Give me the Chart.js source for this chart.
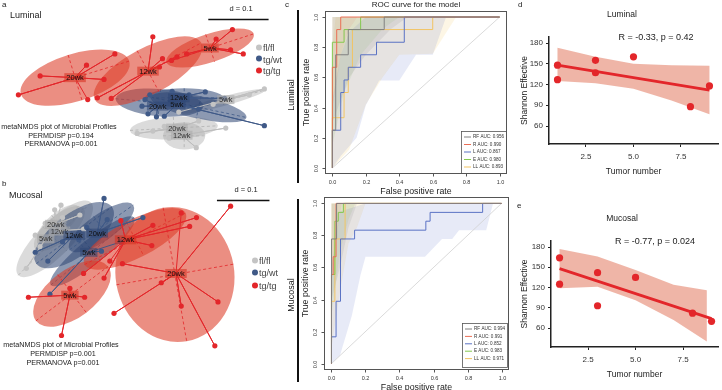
<!DOCTYPE html>
<html><head><meta charset="utf-8">
<title>Microbiota figure</title>
<script src="https://cdn.jsdelivr.net/npm/chart.js@4.4.1/dist/chart.umd.min.js"></script>
<style>
html,body{margin:0;padding:0;background:#fff}
body{width:722px;height:390px;position:relative;overflow:hidden;font-family:"Liberation Sans",Arial,sans-serif;color:#222}
canvas{position:absolute}
.t{position:absolute;white-space:nowrap;line-height:1;transform:translate(-50%,-50%)}
.l{position:absolute;white-space:nowrap;line-height:1;transform:translate(0,-50%)}
.r{position:absolute;white-space:nowrap;line-height:1;transform:translate(-50%,-50%) rotate(-90deg)}
.dot{display:inline-block;width:6px;height:6px;border-radius:50%;margin-right:1px;vertical-align:middle;position:relative;top:-1px}
.bar{position:absolute;background:#111}
</style></head><body>
<canvas id="cA" width="290" height="185" style="left:0;top:0"></canvas>
<canvas id="cB" width="290" height="190" style="left:0;top:185px"></canvas>
<canvas id="cC1" width="215" height="197" style="left:300px;top:0"></canvas>
<canvas id="cC2" width="215" height="200" style="left:300px;top:190px"></canvas>
<canvas id="cD" width="202" height="190" style="left:520px;top:0"></canvas>
<canvas id="cE" width="202" height="200" style="left:520px;top:190px"></canvas>

<!-- panel a texts -->
<div class="l" style="left:2px;top:5px;font-size:8px">a</div>
<div class="l" style="left:10px;top:15px;font-size:9px">Luminal</div>
<div class="t" style="left:241px;top:9px;font-size:7.5px">d = 0.1</div>
<div class="l" style="left:256px;top:48px;font-size:9px;color:#444"><span class="dot" style="background:#c4c4c4"></span>fl/fl</div>
<div class="l" style="left:256px;top:59.5px;font-size:9px;color:#444"><span class="dot" style="background:#3f5987"></span>tg/wt</div>
<div class="l" style="left:256px;top:71px;font-size:9px;color:#444"><span class="dot" style="background:#e3262a"></span>tg/tg</div>
<div class="t" style="left:59px;top:127px;font-size:7.2px">metaNMDS plot of Microbial Profiles</div>
<div class="t" style="left:61px;top:135.5px;font-size:7.2px">PERMDISP p=0.194</div>
<div class="t" style="left:61px;top:144px;font-size:7.2px">PERMANOVA p=0.001</div>

<!-- panel b texts -->
<div class="l" style="left:2px;top:184px;font-size:8px">b</div>
<div class="l" style="left:9px;top:195px;font-size:9px">Mucosal</div>
<div class="t" style="left:246px;top:190px;font-size:7.5px">d = 0.1</div>
<div class="l" style="left:252px;top:261px;font-size:9px;color:#444"><span class="dot" style="background:#c4c4c4"></span>fl/fl</div>
<div class="l" style="left:252px;top:273px;font-size:9px;color:#444"><span class="dot" style="background:#3f5987"></span>tg/wt</div>
<div class="l" style="left:252px;top:286px;font-size:9px;color:#444"><span class="dot" style="background:#e3262a"></span>tg/tg</div>
<div class="t" style="left:61px;top:345px;font-size:7.2px">metaNMDS plot of Microbial Profiles</div>
<div class="t" style="left:63px;top:354px;font-size:7.2px">PERMDISP p=0.001</div>
<div class="t" style="left:63px;top:363px;font-size:7.2px">PERMANOVA p=0.001</div>

<!-- panel c side labels -->
<div class="l" style="left:285px;top:5px;font-size:8px">c</div>
<div class="bar" style="left:297px;top:10px;width:1.5px;height:173px"></div>
<div class="r" style="left:291px;top:95px;font-size:9px">Luminal</div>
<div class="bar" style="left:297px;top:199px;width:1.5px;height:183px"></div>
<div class="r" style="left:291px;top:295px;font-size:9px">Mucosal</div>

<!-- panel d / e texts -->
<div class="l" style="left:518px;top:5px;font-size:8px">d</div>
<div class="t" style="left:622px;top:14px;font-size:8.5px">Luminal</div>
<div class="t" style="left:656px;top:36.5px;font-size:9px">R = -0.33, p = 0.42</div>
<div class="l" style="left:517px;top:206px;font-size:8px">e</div>
<div class="t" style="left:622px;top:218px;font-size:8.5px">Mucosal</div>
<div class="t" style="left:655px;top:241px;font-size:9px">R = -0.77, p = 0.024</div>

<script>
// ================= DATA =================
const weeks = ['5wk', '12wk', '20wk'];
const genotypes = ['fl/fl', 'tg/wt', 'tg/tg'];

// ---- Panel a: Luminal metaNMDS (NMDS1, NMDS2); order of weeks: 5wk, 12wk, 20wk ----
const lumFlCentroids = [[0.134, -0.012], [0.061, -0.072], [0.053, -0.060]];
const lumFlSamples = [
  [[0.198, 0.006], [0.173, -0.004], [0.113, -0.020], [0.056, -0.033]],
  [[0.085, -0.093], [0.134, -0.060], [0.040, -0.077]],
  [[-0.013, -0.069], [0.013, -0.065], [0.089, -0.048], [0.032, -0.057]]
];
// ellipse: [centre NMDS1, centre NMDS2, semi-axis 1, semi-axis 2, angle deg]
const lumFlEllipses = [[0.129, -0.015, 0.073, 0.008, 15], [0.065, -0.073, 0.035, 0.023, 0], [0.048, -0.060, 0.073, 0.019, 3]];

const lumWtCentroids = [[0.053, -0.020], [0.056, -0.009], [0.021, -0.023]];
const lumWtSamples = [
  [[0.198, -0.056], [0.089, -0.028], [0.032, -0.040], [0.065, -0.012]],
  [[0.100, 0.001], [0.045, 0.002], [0.132, -0.010], [0.073, -0.004]],
  [[0.000, -0.012], [-0.005, -0.023], [0.005, -0.036], [0.019, -0.041], [0.008, -0.004]]
];
const lumWtEllipses = [[0.089, -0.025, 0.081, 0.019, -12], [0.065, -0.009, 0.065, 0.016, 0], [0.024, -0.017, 0.073, 0.023, -5]];

const lumTgCentroids = [[0.108, 0.075], [0.005, 0.036], [-0.116, 0.025]];
const lumTgSamples = [
  [[0.145, 0.106], [0.163, 0.065], [0.142, 0.072], [0.118, 0.090], [0.069, 0.065], [0.044, 0.054]],
  [[0.013, 0.094], [-0.079, -0.009], [-0.056, -0.010], [0.029, 0.057], [0.053, 0.060], [0.024, 0.043]],
  [[-0.210, -0.004], [-0.174, 0.028], [-0.097, 0.046], [-0.050, 0.065], [-0.068, 0.022], [-0.095, -0.012]]
];
const lumTgEllipses = [[0.108, 0.075, 0.076, 0.024, 18], [0.005, 0.036, 0.100, 0.039, 28], [-0.116, 0.025, 0.094, 0.040, 17]];

// ---- Panel b: Mucosal metaNMDS ----
const mucFlCentroids = [[-0.189, 0.075], [-0.163, 0.090], [-0.170, 0.103]];
const mucFlSamples = [
  [[-0.226, 0.018], [-0.209, 0.082], [-0.200, 0.060]],
  [[-0.117, 0.094], [-0.157, 0.116], [-0.190, 0.105]],
  [[-0.172, 0.131], [-0.124, 0.121], [-0.160, 0.140]]
];
const mucFlEllipses = [[-0.172, 0.075, 0.098, 0.033, 45], [-0.163, 0.095, 0.060, 0.025, 40], [-0.165, 0.105, 0.050, 0.020, 40]];

const mucWtCentroids = [[-0.107, 0.049], [-0.135, 0.082], [-0.091, 0.086]];
const mucWtSamples = [
  [[-0.181, -0.032], [-0.083, 0.051], [-0.046, 0.069]],
  [[-0.185, 0.032], [-0.209, 0.049], [-0.126, 0.073], [-0.157, 0.069]],
  [[-0.078, 0.153], [-0.072, 0.112], [-0.004, 0.116], [-0.111, 0.097]]
];
const mucWtEllipses = [[-0.100, 0.051, 0.102, 0.024, 39], [-0.135, 0.082, 0.090, 0.041, 37], [-0.083, 0.097, 0.074, 0.026, 35]];

const mucTgCentroids = [[-0.143, -0.034], [-0.037, 0.073], [0.059, 0.008]];
const mucTgSamples = [
  [[-0.222, -0.038], [-0.115, -0.038], [-0.159, -0.112], [-0.143, -0.021]],
  [[0.098, 0.116], [0.085, 0.099], [0.013, 0.062], [-0.046, 0.110], [0.015, 0.101], [-0.117, 0.008], [-0.078, -0.001], [-0.067, 0.032]],
  [[0.163, 0.138], [0.139, -0.047], [0.133, -0.132], [0.069, -0.055], [-0.059, -0.069], [0.031, -0.010], [-0.043, 0.027], [0.069, 0.125]]
];
const mucTgEllipses = [[-0.139, -0.031, 0.086, 0.046, 37], [-0.019, 0.075, 0.108, 0.037, 27], [0.057, 0.006, 0.113, 0.131, 10]];

// ---- Panel c: ROC curves (FPR, TPR) ----
const rocModels = ['RF', 'R', 'L', 'E', 'LL'];
const rocTicks = [0, 0.2, 0.4, 0.6, 0.8, 1.0];
const lumAUC = [0.956, 0.990, 0.867, 0.980, 0.893];
const mucAUC = [0.994, 0.991, 0.852, 0.983, 0.971];

const lumRocRF = [[0,0],[0,0.25],[0.02,0.25],[0.02,0.75],[0.095,0.75],[0.095,0.917],[0.31,0.917],[0.31,1],[1,1]];
const lumRocR  = [[0,0],[0,0.667],[0.026,0.667],[0.026,0.917],[0.05,0.917],[0.05,1],[1,1]];
const lumRocL  = [[0,0],[0,0.25],[0.05,0.25],[0.05,0.5],[0.07,0.5],[0.07,0.583],[0.095,0.583],[0.095,0.667],[0.169,0.667],[0.169,0.75],[0.264,0.75],[0.264,0.833],[0.43,0.833],[0.43,1],[1,1]];
const lumRocE  = [[0,0],[0,0.833],[0.07,0.833],[0.07,0.917],[0.169,0.917],[0.169,1],[1,1]];
const lumRocLL = [[0,0],[0,0.333],[0.07,0.333],[0.07,0.5],[0.095,0.5],[0.095,0.667],[0.12,0.667],[0.12,0.917],[0.6,0.917],[0.6,1],[1,1]];
// confidence bands (closed outlines)
const lumBandRF = [[0,0.3],[0.05,0.45],[0.1,0.6],[0.2,0.75],[0.35,0.92],[0.45,1],[0,1]];
const lumBandR  = [[0,0.4],[0.03,0.6],[0.05,0.75],[0.1,0.92],[0.15,1],[0,1]];
const lumBandL  = [[0,0],[0.05,0.08],[0.145,0.2],[0.2,0.415],[0.28,0.58],[0.4,0.58],[0.5,0.75],[0.6,0.75],[0.68,1],[0.2,1],[0.1,0.9],[0.05,0.75],[0,0.45]];
const lumBandE  = [[0,0.15],[0.07,0.5],[0.17,0.75],[0.3,0.92],[0.4,1],[0,1]];
const lumBandLL = [[0,0],[0.1,0.12],[0.2,0.42],[0.3,0.6],[0.4,0.75],[0.6,0.757],[0.74,1],[0.02,1],[0,0.8]];

const mucRocRF = [[0,0],[0,0.778],[0.03,0.778],[0.03,1],[1,1]];
const mucRocR  = [[0,0],[0,0.556],[0.01,0.556],[0.01,0.667],[0.027,0.667],[0.027,1],[1,1]];
const mucRocL  = [[0,0],[0,0.167],[0.027,0.167],[0.027,0.389],[0.053,0.389],[0.053,0.778],[0.136,0.778],[0.136,0.833],[0.555,0.833],[0.555,0.889],[0.58,0.889],[0.58,0.944],[0.889,0.944],[0.889,1],[1,1]];
const mucRocE  = [[0,0],[0,0.556],[0.02,0.556],[0.02,0.889],[0.04,0.889],[0.04,0.944],[0.07,0.944],[0.07,1],[1,1]];
const mucRocLL = [[0,0],[0,0.389],[0.02,0.389],[0.02,0.778],[0.08,0.778],[0.08,1],[1,1]];
const mucBandRF = [[0,0.4],[0.05,0.6],[0.1,0.85],[0.15,1],[0,1]];
const mucBandR  = [[0,0.5],[0.03,0.8],[0.06,1],[0,1]];
const mucBandL  = [[0,0],[0.05,0.05],[0.12,0.3],[0.17,0.55],[0.2,0.667],[0.55,0.667],[0.65,0.778],[0.71,0.778],[0.75,0.833],[0.91,0.833],[0.95,1],[0.2,1],[0.05,0.95],[0,0.6]];
const mucBandE  = [[0,0.3],[0.05,0.7],[0.1,0.9],[0.14,1],[0,1]];
const mucBandLL = [[0,0.1],[0.05,0.45],[0.1,0.75],[0.15,0.85],[0.2,1],[0,1]];
const rocDiagonal = [[0,0],[1,1]];

// ---- Panels d, e: Shannon effective vs tumor number ----
const lumTumor = [1, 1, 3, 3, 5, 8, 9];
const lumShannon = [148, 127, 155, 137, 160, 88, 118];
const lumFitX = [1, 9];
const lumFitY = [148, 112];
const lumBandX = [1, 3, 5, 7, 9];
const lumBandUpper = [173, 160, 150, 148, 147];
const lumBandLower = [125, 122, 114, 97, 77];

const mucTumor = [1, 1, 3, 3, 5, 8, 9];
const mucShannon = [164, 125, 142, 93, 135, 82, 70];
const mucFitX = [1, 9];
const mucFitY = [148, 74];
const mucBandX = [1, 3, 5, 7, 8.75];
const mucBandUpper = [177, 166, 146, 124, 116];
const mucBandLower = [119, 121, 101, 72, 40];

const corrXTicks = [2.5, 5.0, 7.5];
const corrYTicks = [60, 90, 120, 150, 180];

// ================= STYLE =================
Chart.defaults.font.family = '"Liberation Sans", Arial, sans-serif';
Chart.defaults.color = '#222';
const genoStyle = [
  { point: '#c4c4c4', line: '#bdbdbd', fill: 'rgba(175,175,175,0.45)', dash: '#b0b0b0', label: 'rgba(170,170,170,0.6)' },
  { point: '#3f5987', line: '#3f5987', fill: 'rgba(45,70,115,0.55)', dash: '#3f5987', label: 'rgba(45,70,115,0.55)' },
  { point: '#e3262a', line: '#e3262a', fill: 'rgba(220,60,40,0.58)', dash: '#e3262a', label: 'rgba(215,50,35,0.6)' }
];
const rocColors = ['#808080', '#ea6e55', '#5a72c4', '#84c94f', '#f2c463'];
const rocBandColors = ['rgba(140,140,140,0.16)', 'rgba(232,112,90,0.12)', 'rgba(91,116,200,0.15)', 'rgba(130,200,76,0.12)', 'rgba(243,197,96,0.16)'];
const pt = p => ({ x: p[0], y: p[1] });

// ================= NMDS PANELS =================
function makeNmdsPlugin(groups, bar) {
  return {
    id: 'nmds',
    beforeDatasetsDraw(chart) {
      const { ctx, scales: { x, y } } = chart;
      const kx = x.getPixelForValue(1) - x.getPixelForValue(0);
      const ky = y.getPixelForValue(0) - y.getPixelForValue(1);
      groups.forEach(g => {
        const st = genoStyle[g.geno];
        g.ellipses.forEach(e => {
          const cx = x.getPixelForValue(e[0]), cy = y.getPixelForValue(e[1]);
          const rx = e[2] * kx, ry = e[3] * ky, a = -e[4] * Math.PI / 180;
          ctx.save();
          ctx.fillStyle = st.fill;
          ctx.beginPath(); ctx.ellipse(cx, cy, rx, ry, a, 0, Math.PI * 2); ctx.fill();
          ctx.strokeStyle = st.dash; ctx.lineWidth = 0.8; ctx.setLineDash([3, 2.5]);
          const ca = Math.cos(a), sa = Math.sin(a);
          ctx.beginPath();
          ctx.moveTo(cx - rx * ca, cy - rx * sa); ctx.lineTo(cx + rx * ca, cy + rx * sa);
          ctx.moveTo(cx + ry * sa, cy - ry * ca); ctx.lineTo(cx - ry * sa, cy + ry * ca);
          ctx.stroke();
          ctx.restore();
        });
      });
    },
    afterDatasetsDraw(chart) {
      const { ctx, scales: { x, y } } = chart;
      ctx.save();
      ctx.font = '7.5px "Liberation Sans", Arial, sans-serif';
      ctx.textAlign = 'center'; ctx.textBaseline = 'middle';
      groups.forEach(g => {
        const st = genoStyle[g.geno];
        g.centroids.forEach((c, i) => {
          const px = x.getPixelForValue(c[0]), py = y.getPixelForValue(c[1]);
          const w = ctx.measureText(weeks[i]).width + 4;
          ctx.fillStyle = st.label;
          ctx.fillRect(px - w / 2, py - 4.5, w, 9);
          ctx.fillStyle = g.geno === 0 ? '#333' : '#111';
          ctx.fillText(weeks[i], px, py + 0.5);
        });
      });
      // scale bar (length 0.1 NMDS units)
      ctx.strokeStyle = '#111'; ctx.lineWidth = 1.5;
      ctx.beginPath();
      ctx.moveTo(x.getPixelForValue(bar.x2 - 0.1), y.getPixelForValue(bar.y));
      ctx.lineTo(x.getPixelForValue(bar.x2), y.getPixelForValue(bar.y));
      ctx.stroke();
      ctx.restore();
    }
  };
}

function spider(c, samples) {
  const out = [];
  samples.forEach(s => { out.push(pt(c)); out.push(pt(s)); });
  return out;
}

function nmdsChart(id, groups, xr, yr, bar) {
  const datasets = [];
  groups.forEach(g => {
    const st = genoStyle[g.geno];
    g.samples.forEach((s, i) => {
      datasets.push({
        label: genotypes[g.geno] + ' ' + weeks[i],
        data: spider(g.centroids[i], s),
        showLine: true, fill: false,
        borderColor: st.line, borderWidth: 1,
        pointRadius: c => (c.dataIndex % 2 ? 2.6 : 0),
        pointBackgroundColor: st.point, pointBorderWidth: 0,
        order: 2 - g.geno
      });
    });
  });
  new Chart(document.getElementById(id), {
    type: 'line',
    data: { datasets },
    options: {
      responsive: false, animation: false, devicePixelRatio: 1, events: [],
      layout: { padding: 0 },
      plugins: { legend: { display: false }, tooltip: { enabled: false } },
      scales: {
        x: { type: 'linear', display: false, min: xr[0], max: xr[1] },
        y: { type: 'linear', display: false, min: yr[0], max: yr[1] }
      }
    },
    plugins: [makeNmdsPlugin(groups, bar)]
  });
}

nmdsChart('cA', [
  { geno: 0, centroids: lumFlCentroids, samples: lumFlSamples, ellipses: lumFlEllipses },
  { geno: 1, centroids: lumWtCentroids, samples: lumWtSamples, ellipses: lumWtEllipses },
  { geno: 2, centroids: lumTgCentroids, samples: lumTgSamples, ellipses: lumTgEllipses }
], [-0.2339, 0.2339], [-0.1492, 0.1492], { x2: 0.205, y: 0.123 });

nmdsChart('cB', [
  { geno: 0, centroids: mucFlCentroids, samples: mucFlSamples, ellipses: mucFlEllipses },
  { geno: 1, centroids: mucWtCentroids, samples: mucWtSamples, ellipses: mucWtEllipses },
  { geno: 2, centroids: mucTgCentroids, samples: mucTgSamples, ellipses: mucTgEllipses }
], [-0.2685, 0.2685], [-0.1806, 0.1713], { x2: 0.237, y: 0.149 });

// ================= ROC PANELS =================
function makeRocPlugin(title, aucs, box) {
  return {
    id: 'rocFrame',
    afterDraw(chart) {
      const { ctx, chartArea: a, scales: { x, y } } = chart;
      ctx.save();
      ctx.strokeStyle = '#555'; ctx.lineWidth = 1;
      ctx.strokeRect(a.left + 0.5, a.top + 0.5, a.right - a.left - 1, a.bottom - a.top - 1);
      ctx.fillStyle = '#333';
      ctx.font = '5.5px "Liberation Sans", Arial, sans-serif';
      ctx.textAlign = 'center'; ctx.textBaseline = 'middle';
      rocTicks.forEach(v => {
        const px = Math.round(x.getPixelForValue(v)) + 0.5;
        ctx.beginPath(); ctx.moveTo(px, a.bottom); ctx.lineTo(px, a.bottom + 2.5); ctx.stroke();
        ctx.fillText(v.toFixed(1), px, a.bottom + 8.5);
        const py = Math.round(y.getPixelForValue(v)) + 0.5;
        ctx.beginPath(); ctx.moveTo(a.left, py); ctx.lineTo(a.left - 2.5, py); ctx.stroke();
        ctx.save(); ctx.translate(a.left - 8.5, py); ctx.rotate(-Math.PI / 2); ctx.fillText(v.toFixed(1), 0, 0); ctx.restore();
      });
      ctx.fillStyle = '#222';
      ctx.font = '8.8px "Liberation Sans", Arial, sans-serif';
      ctx.fillText('False positive rate', (x.getPixelForValue(0) + x.getPixelForValue(1)) / 2, a.bottom + 18);
      ctx.save();
      ctx.translate(a.left - 18, (y.getPixelForValue(0) + y.getPixelForValue(1)) / 2);
      ctx.rotate(-Math.PI / 2); ctx.fillText('True positive rate', 0, 0); ctx.restore();
      if (title) {
        ctx.font = '8px "Liberation Sans", Arial, sans-serif';
        ctx.fillText(title, (a.left + a.right) / 2, 5);
      }
      // legend
      const bx = a.right - box.dx - box.w, by = a.bottom - box.dy - box.h;
      ctx.fillStyle = '#fff'; ctx.fillRect(bx, by, box.w, box.h);
      ctx.strokeStyle = '#555'; ctx.lineWidth = 0.8; ctx.strokeRect(bx + 0.5, by + 0.5, box.w, box.h);
      ctx.font = '4.6px "Liberation Sans", Arial, sans-serif';
      ctx.textAlign = 'left';
      rocModels.forEach((m, i) => {
        const yy = by + 6 + i * box.step;
        ctx.strokeStyle = rocColors[i]; ctx.lineWidth = 1;
        ctx.beginPath(); ctx.moveTo(bx + 3, yy); ctx.lineTo(bx + 10, yy); ctx.stroke();
        ctx.fillStyle = '#333';
        ctx.fillText(m + ' AUC: ' + aucs[i].toFixed(3), bx + 12, yy);
      });
      ctx.restore();
    }
  };
}

function rocChart(id, curves, bands, aucs, title, pad, box) {
  const datasets = [];
  curves.forEach((c, i) => datasets.push({
    label: rocModels[i], data: c.map(pt), showLine: true, fill: false,
    borderColor: rocColors[i], borderWidth: 1, pointRadius: 0, order: 0
  }));
  datasets.push({ label: 'chance', data: rocDiagonal.map(pt), showLine: true, fill: false,
    borderColor: '#d0d0d0', borderWidth: 0.8, pointRadius: 0, order: 1 });
  bands.forEach((b, i) => datasets.push({
    label: rocModels[i] + ' CI', data: b.map(pt), showLine: true, fill: 'shape',
    backgroundColor: rocBandColors[i], borderWidth: 0, borderColor: 'rgba(0,0,0,0)', pointRadius: 0, order: 2
  }));
  new Chart(document.getElementById(id), {
    type: 'line',
    data: { datasets },
    options: {
      responsive: false, animation: false, devicePixelRatio: 1, events: [],
      layout: { padding: pad },
      plugins: { legend: { display: false }, tooltip: { enabled: false } },
      scales: {
        x: { type: 'linear', display: false, min: -0.044, max: 1.044 },
        y: { type: 'linear', display: false, min: -0.04, max: 1.04 }
      }
    },
    plugins: [makeRocPlugin(title, aucs, box)]
  });
}

rocChart('cC1', [lumRocRF, lumRocR, lumRocL, lumRocE, lumRocLL],
  [lumBandRF, lumBandR, lumBandL, lumBandE, lumBandLL], lumAUC, 'ROC curve for the model',
  { left: 25, right: 8, top: 11, bottom: 23 }, { w: 45, h: 42, dx: 1, dy: 1, step: 7.5 });
rocChart('cC2', [mucRocRF, mucRocR, mucRocL, mucRocE, mucRocLL],
  [mucBandRF, mucBandR, mucBandL, mucBandE, mucBandLL], mucAUC, null,
  { left: 24, right: 6, top: 7, bottom: 20 }, { w: 45, h: 44, dx: 2, dy: 3, step: 7.4 });

// ================= CORRELATION PANELS =================
function corrChart(id, xs, ys, fitX, fitY, bx, bu, bl, xr, yr, pad, yw) {
  const bandPoly = bx.map((v, i) => ({ x: v, y: bu[i] }))
    .concat(bx.map((v, i) => ({ x: v, y: bl[i] })).reverse());
  new Chart(document.getElementById(id), {
    type: 'line',
    data: {
      datasets: [
        { label: 'samples', data: xs.map((v, i) => ({ x: v, y: ys[i] })), showLine: false,
          pointRadius: 3.6, pointBackgroundColor: '#e3262a', pointBorderWidth: 0, order: 0 },
        { label: 'fit', data: fitX.map((v, i) => ({ x: v, y: fitY[i] })), showLine: true, fill: false,
          borderColor: '#e3262a', borderWidth: 2.8, pointRadius: 0, order: 1 },
        { label: '95% CI', data: bandPoly, showLine: true, fill: 'shape',
          backgroundColor: 'rgba(226,120,95,0.55)', borderWidth: 0, borderColor: 'rgba(0,0,0,0)', pointRadius: 0, order: 2 }
      ]
    },
    options: {
      responsive: false, animation: false, devicePixelRatio: 1, events: [],
      layout: { padding: pad },
      plugins: { legend: { display: false }, tooltip: { enabled: false } },
      scales: {
        x: {
          type: 'linear', min: xr[0], max: xr[1],
          afterBuildTicks: s => { s.ticks = corrXTicks.map(v => ({ value: v })); },
          afterFit: s => { s.height = 33; },
          ticks: { font: { size: 8 }, color: '#333', padding: 5, maxRotation: 0, autoSkip: false, callback: v => Number(v).toFixed(1) },
          grid: { drawOnChartArea: false, tickLength: 3, color: '#222', lineWidth: 1 },
          border: { color: '#222', width: 1.5 },
          title: { display: true, text: 'Tumor number', font: { size: 8.5 }, color: '#222', padding: { top: 3, bottom: 0 } }
        },
        y: {
          type: 'linear', min: yr[0], max: yr[1],
          afterBuildTicks: s => { s.ticks = corrYTicks.map(v => ({ value: v })); },
          afterFit: s => { s.width = yw; },
          ticks: { font: { size: 8 }, color: '#333', padding: 3, autoSkip: false },
          grid: { drawOnChartArea: false, tickLength: 3, color: '#222', lineWidth: 1 },
          border: { color: '#222', width: 1.5 },
          title: { display: true, text: 'Shannon Effective', font: { size: 8.5 }, color: '#222', padding: { top: 0, bottom: 0 } }
        }
      }
    }
  });
}

corrChart('cD', lumTumor, lumShannon, lumFitX, lumFitY, lumBandX, lumBandUpper, lumBandLower,
  [0.553, 9.45], [34, 188.7], { left: 0, right: 4, top: 37, bottom: 13 }, 29);
corrChart('cE', mucTumor, mucShannon, mucFitX, mucFitY, mucBandX, mucBandUpper, mucBandLower,
  [0.55, 9.34], [31.9, 188.9], { left: 0, right: 4, top: 51, bottom: 10 }, 31);
</script>
</body></html>
